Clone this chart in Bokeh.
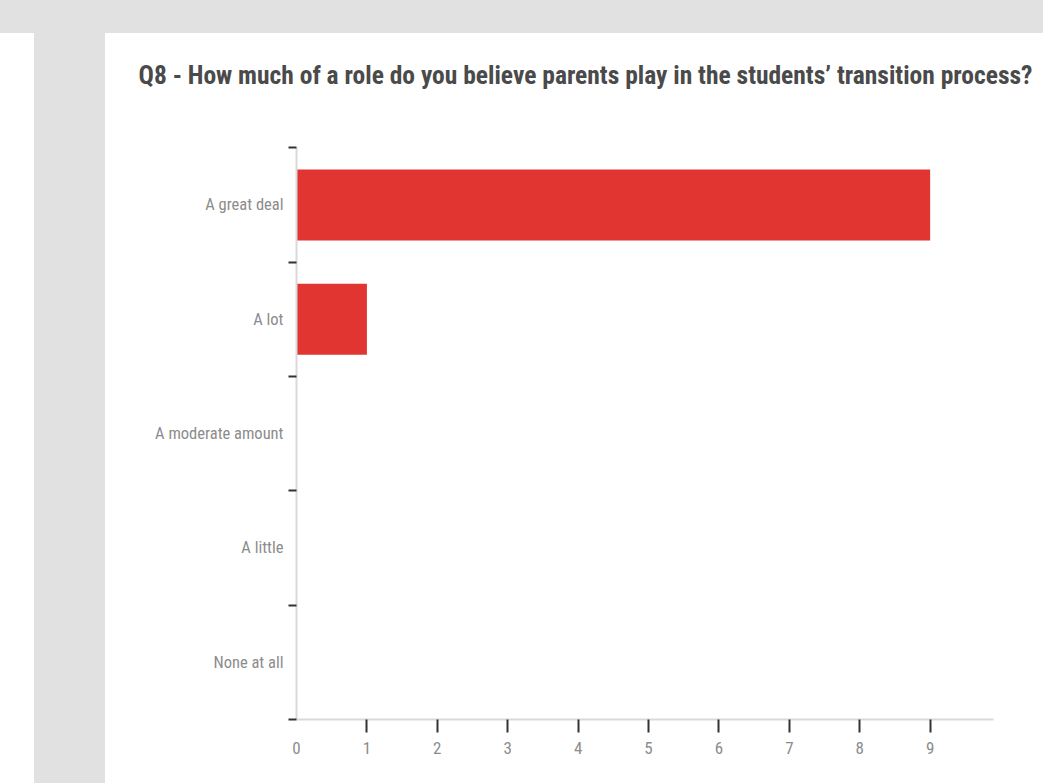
from bokeh.plotting import figure
from bokeh.models import FixedTicker, Range1d, Title, Spacer
from bokeh.layouts import column, row
from bokeh.embed import file_html
from bokeh.resources import INLINE

title_text = "Q8 - How much of a role do you believe parents play in the students\u2019 transition process?"
categories = ["A great deal", "A lot", "A moderate amount", "A little", "None at all"]
counts = [9, 1, 0, 0, 0]
x_ticks = [0, 1, 2, 3, 4, 5, 6, 7, 8, 9]

FONT = "Roboto Condensed, DejaVu Sans Condensed, sans-serif"

n = len(categories)
ypos = [n - i - 0.5 for i in range(n)]
boundaries = [float(i) for i in range(n + 1)]

p = figure(width=938, height=750, output_backend="svg", toolbar_location=None,
           x_range=Range1d(0, 9.9), y_range=Range1d(0, n + 0.3),
           min_border_left=191, min_border_right=50, min_border_top=0, min_border_bottom=64,
           background_fill_color="white", border_fill_color="white")
p.outline_line_color = None
p.grid.visible = False

p.hbar(y=ypos, left=0, right=counts, height=0.62, fill_color="#e13532", line_color=None)

p.title = Title(text=title_text, align="left", offset=-158, standoff=48,
                text_font=FONT, text_font_size="25.5px",
                text_font_style="bold", text_color="#4a4a4a")

# x axis
xa = p.xaxis[0]
xa.ticker = FixedTicker(ticks=x_ticks, minor_ticks=x_ticks[1:])
xa.major_tick_line_color = None
xa.major_tick_out = 0
xa.major_tick_in = 0
xa.minor_tick_out = 13
xa.minor_tick_in = 0
xa.minor_tick_line_color = "#333333"
xa.minor_tick_line_width = 2
xa.axis_line_color = "#d9d9d9"
xa.axis_line_width = 2
xa.major_label_standoff = 9
xa.major_label_text_font = FONT
xa.major_label_text_font_size = "17px"
xa.major_label_text_color = "#8c8c8c"

# y axis
ya = p.yaxis[0]
ya.bounds = (0, n)
ya.ticker = FixedTicker(ticks=ypos, minor_ticks=boundaries)
ya.major_label_overrides = {y: c for y, c in zip(ypos, categories)}
ya.major_tick_line_color = None
ya.major_tick_out = 0
ya.major_tick_in = 0
ya.minor_tick_out = 8
ya.minor_tick_in = 0
ya.minor_tick_line_color = "#333333"
ya.minor_tick_line_width = 2
ya.axis_line_color = "#d9d9d9"
ya.axis_line_width = 2
ya.major_label_standoff = 5
ya.major_label_text_font = FONT
ya.major_label_text_font_size = "16.5px"
ya.major_label_text_color = "#8c8c8c"

top = Spacer(width=1043, height=33, styles={"background-color": "#e1e1e1"})
left_white = Spacer(width=34, height=750, styles={"background-color": "#ffffff"})
left_grey = Spacer(width=71, height=750, styles={"background-color": "#e1e1e1"})
layout = column(top, row(left_white, left_grey, p, spacing=0), spacing=0)

open("out.html", "w").write(file_html(layout, INLINE))
